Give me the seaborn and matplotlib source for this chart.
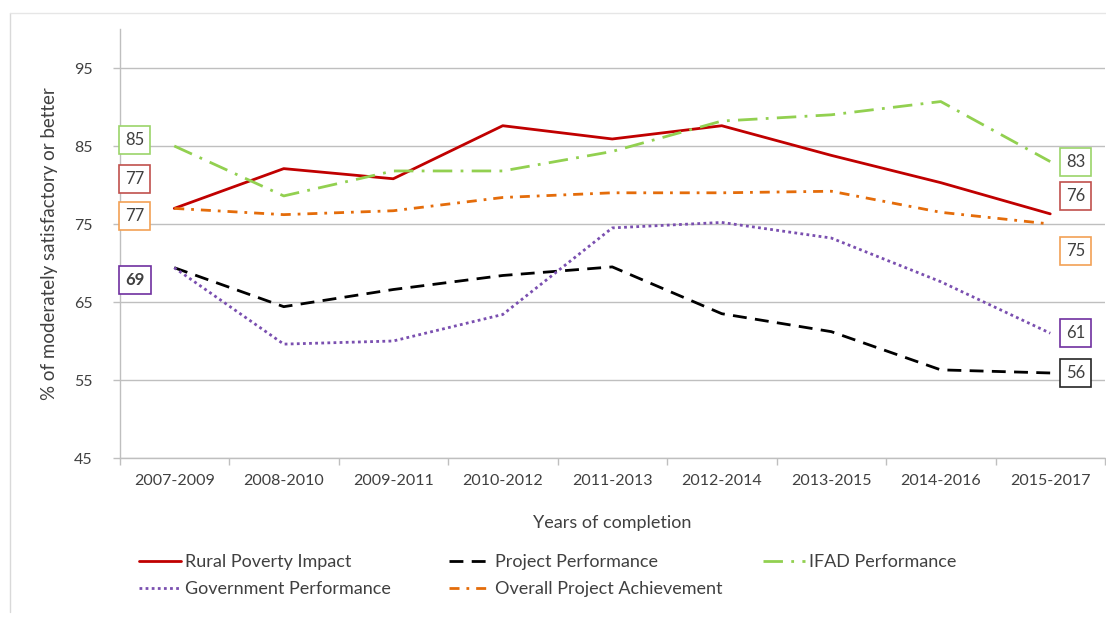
import matplotlib
matplotlib.use('Agg')
import matplotlib.pyplot as plt
import seaborn as sns
import numpy as np
from matplotlib.lines import Line2D

# ---------------- data ----------------
periods = ['2007-2009', '2008-2010', '2009-2011', '2010-2012', '2011-2013',
           '2012-2014', '2013-2015', '2014-2016', '2015-2017']
rural_poverty_impact = [77.0, 82.1, 80.8, 87.6, 85.9, 87.6, 83.8, 80.3, 76.3]
project_performance = [69.4, 64.4, 66.6, 68.4, 69.5, 63.5, 61.2, 56.3, 55.9]
ifad_performance = [85.0, 78.6, 81.8, 81.8, 84.3, 88.2, 89.0, 90.7, 83.0]
government_performance = [69.4, 59.6, 60.0, 63.4, 74.5, 75.2, 73.2, 67.6, 61.0]
overall_achievement = [77.0, 76.2, 76.7, 78.4, 79.0, 79.0, 79.2, 76.5, 75.0]

series_names = ['Rural Poverty Impact', 'Project Performance', 'IFAD Performance',
                'Government Performance', 'Overall Project Achievement']
series_values = [rural_poverty_impact, project_performance, ifad_performance,
                 government_performance, overall_achievement]

left_label_texts = ['85', '77', '77', '69']
right_label_texts = ['83', '76', '75', '61', '56']
y_ticks = [45, 55, 65, 75, 85, 95]

# ---------------- styles ----------------
styles = {
    'Rural Poverty Impact': dict(color='#c00000', linestyle='-'),
    'Project Performance': dict(color='#000000', linestyle=(0, (5, 3))),
    'IFAD Performance': dict(color='#92d050', linestyle=(0, (7, 3, 1, 3))),
    'Government Performance': dict(color='#7a4fb0', linestyle=(0, (1, 1.2))),
    'Overall Project Achievement': dict(color='#e46c0a', linestyle=(0, (3.6, 2.5, 1, 2.5))),
}
label_edge = {
    'Rural Poverty Impact': '#c0504d',
    'Project Performance': '#262626',
    'IFAD Performance': '#9bd46a',
    'Government Performance': '#7030a0',
    'Overall Project Achievement': '#f2a155',
}
left_label_series = ['IFAD Performance', 'Rural Poverty Impact',
                     'Overall Project Achievement', 'Government Performance']
left_label_y = [85.8, 80.8, 76.0, 67.8]
right_label_series = ['IFAD Performance', 'Rural Poverty Impact',
                      'Overall Project Achievement', 'Government Performance',
                      'Project Performance']
right_label_y = [82.95, 78.6, 71.5, 61.0, 55.9]

# legend layout: columns (row-major order in reference)
legend_columns = [['Rural Poverty Impact', 'Government Performance'],
                  ['Project Performance', 'Overall Project Achievement'],
                  ['IFAD Performance']]
legend_col_x = [139, 449, 763]

TEXT = '#404040'
GRID = '#bfbfbf'

sns.set_theme(style='white')
plt.rcParams['font.family'] = ['Lato', 'DejaVu Sans']

W, H = 1106, 621
fig = plt.figure(figsize=(W / 100, H / 100), dpi=100)
ax = fig.add_axes([119.5 / W, 1 - 458 / H, (1105 - 119.5) / W, (458 - 29) / H])

LW = 2.0
for name, vals in zip(series_names, series_values):
    st = styles[name]
    sns.lineplot(x=periods, y=vals, ax=ax, color=st['color'], linestyle=st['linestyle'],
                 linewidth=LW, sort=False, legend=False)

ax.set_xlim(-0.5, 8.5)
ax.set_ylim(45, 100)
ax.set_yticks(y_ticks)
ax.set_xticks(range(len(periods)))
ax.set_xticklabels(periods)
ax.set_xticks(np.arange(-0.5, len(periods), 1), minor=True)
ax.yaxis.grid(True, color=GRID, linewidth=1)
ax.xaxis.grid(False)
ax.set_axisbelow(True)
for s in ['top', 'right']:
    ax.spines[s].set_visible(False)
for s in ['left', 'bottom']:
    ax.spines[s].set_color(GRID)
    ax.spines[s].set_linewidth(1)

ax.tick_params(axis='x', which='major', bottom=True, length=0, pad=11.5, labelsize=11.5, labelcolor=TEXT)
ax.tick_params(axis='x', which='minor', bottom=True, length=5, width=1, color=GRID)
ax.tick_params(axis='y', left=True, length=5, width=1, color=GRID, pad=14.5, labelsize=11.5, labelcolor=TEXT)

ax.set_ylabel('% of moderately satisfactory or better', fontsize=13.5, color=TEXT)
ax.yaxis.set_label_coords((58 - 119.5) / 985.5, 0.5)
ax.set_xlabel('Years of completion', fontsize=13, color=TEXT)
ax.xaxis.set_label_coords(0.5, -(515 - 458) / 429)

# value labels in boxes
def box_label(x, y, text, ec, bold=False):
    ax.text(x, y, text, ha='center', va='center', fontsize=12, color=TEXT,
            fontweight='bold' if bold else 'normal', clip_on=False, zorder=5,
            bbox=dict(boxstyle='square,pad=0.36', fc='white', ec=ec, lw=1.2))

for t, s, y in zip(left_label_texts, left_label_series, left_label_y):
    box_label(-0.36, y, t, label_edge[s], bold=(t == '69'))
for t, s, y in zip(right_label_texts, right_label_series, right_label_y):
    box_label(8.23, y, t, label_edge[s])

# legend: one single-column legend per column
for names, x0 in zip(legend_columns, legend_col_x):
    handles = [Line2D([], [], color=styles[n]['color'], linestyle=styles[n]['linestyle'],
                      linewidth=LW) for n in names]
    fig.legend(handles, names, loc='upper left', bbox_to_anchor=(x0 / W, 1 - 554 / H),
               ncol=1, frameon=False, fontsize=13, handlelength=2.35, handletextpad=0.2,
               labelspacing=0.6, borderpad=0, borderaxespad=0, labelcolor=TEXT)

# page frame
fig.add_artist(Line2D([10 / W, 10 / W], [1 - 13 / H, 1 - 612 / H], transform=fig.transFigure,
                      color='#d9d9d9', lw=1))
fig.add_artist(Line2D([10 / W, 1], [1 - 13 / H, 1 - 13 / H], transform=fig.transFigure,
                      color='#e6e6e6', lw=1))

fig.savefig('out.png', dpi=100, facecolor='white')
